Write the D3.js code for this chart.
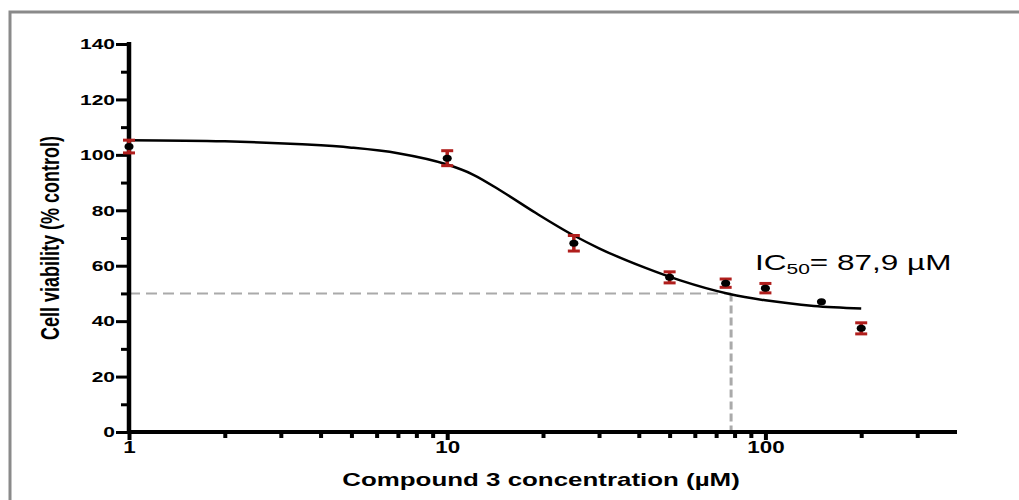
<!DOCTYPE html>
<html>
<head>
<meta charset="utf-8">
<script src="https://cdn.jsdelivr.net/npm/d3@7"></script>
<style>
body { margin: 0; background: #fff; }
svg { display: block; font-family: "Liberation Sans", Arial, sans-serif; }
</style>
</head>
<body>
<div id="chart"></div>
<script>
// measured points (mean +/- error)
const concentrations = [1, 10, 25, 50, 75, 100, 150, 200];
const viability = [103.0, 98.8, 68.1, 55.8, 53.7, 51.9, 47.0, 37.4];
const errors = [2.3, 2.7, 2.8, 2.0, 1.5, 1.7, 0, 2.0];

// fitted curve
const fitConc = [1, 2, 3.5, 5, 7, 10, 12, 15, 19, 25, 30, 42, 54, 77, 100, 142, 200];
const fitViab = [105.3, 104.9, 103.8, 102.6, 100.6, 96.5, 93.0, 86.5, 79.0, 70.9, 66.3, 59.2, 54.7, 49.8, 47.5, 45.5, 44.6];

const yMajor = [0, 20, 40, 60, 80, 100, 120, 140];
const yMinor = [10, 30, 50, 70, 90, 110, 130];
const xTicks = [1, 2, 3, 4, 5, 6, 7, 8, 9, 10, 20, 30, 40, 50, 60, 70, 80, 90, 100, 200, 300];
const xLabels = [1, 10, 100];

const ic50Conc = 78;
const halfLevel = 50;

const width = 1019, height = 500;
const sx = 1.4; // the picture is stretched sideways, text too

let svg = d3.select("#chart").append("svg")
    .attr("width", width)
    .attr("height", height);

// grey frame
svg.append("rect")
    .attr("x", 10).attr("y", 12)
    .attr("width", 1030).attr("height", 520)
    .attr("fill", "none")
    .attr("stroke", "#8a8a8a")
    .attr("stroke-width", 3);

let x = d3.scaleLog().domain([1, 400]).range([129, 957]);
let y = d3.scaleLinear().domain([0, 140]).range([432, 44]);

// dashed IC50 guides
svg.append("line")
    .attr("x1", x(1)).attr("x2", x(ic50Conc))
    .attr("y1", y(halfLevel)).attr("y2", y(halfLevel))
    .attr("stroke", "#aaa").attr("stroke-width", 2)
    .attr("stroke-dasharray", "11,6");
svg.append("line")
    .attr("x1", x(ic50Conc)).attr("x2", x(ic50Conc))
    .attr("y1", y(halfLevel)).attr("y2", y(0))
    .attr("stroke", "#aaa").attr("stroke-width", 3)
    .attr("stroke-dasharray", "8,4");

// fitted curve
let line = d3.line()
    .x(d => x(d[0]))
    .y(d => y(d[1]))
    .curve(d3.curveMonotoneX);
svg.append("path")
    .datum(fitConc.map((c, i) => [c, fitViab[i]]))
    .attr("d", line)
    .attr("fill", "none")
    .attr("stroke", "#000")
    .attr("stroke-width", 2.5);

// y axis
let yMinorAxis = svg.append("g")
    .attr("transform", "translate(" + x(1) + ",0)")
    .call(d3.axisLeft(y).tickValues(yMinor).tickSize(8).tickSizeOuter(0).tickFormat(""));
yMinorAxis.select(".domain").remove();

let yAxis = svg.append("g")
    .attr("transform", "translate(" + x(1) + ",0)")
    .call(d3.axisLeft(y).tickValues(yMajor).tickSize(13).tickSizeOuter(0));
yAxis.select(".domain").attr("stroke-width", 4.5)
    .attr("d", "M0," + (y(140) - 2) + "V" + (y(0) + 2));
yAxis.selectAll("text")
    .attr("x", 0)
    .attr("transform", "translate(-14,0) scale(" + sx + ",1)")
    .style("font-size", "15px").style("font-weight", "bold")
    .attr("fill", "#000");
svg.selectAll(".tick line").attr("stroke", "#000").attr("stroke-width", 3);

// x axis
let xAxis = svg.append("g")
    .attr("transform", "translate(0," + y(0) + ")")
    .call(d3.axisBottom(x).tickValues(xTicks).tickSize(6).tickSizeOuter(0)
        .tickFormat(d => xLabels.includes(d) ? d : ""));
xAxis.select(".domain").attr("stroke-width", 4)
    .attr("d", "M" + (x(1) - 2) + ",0H" + x(400));
xAxis.selectAll(".tick line").attr("stroke", "#000").attr("stroke-width", 4);
xAxis.selectAll(".tick").filter(d => xLabels.includes(d)).select("line").attr("y2", 8);
xAxis.selectAll("text")
    .attr("y", 0).attr("dy", null)
    .attr("transform", "translate(0,21) scale(" + sx + ",1)")
    .style("font-size", "16px").style("font-weight", "bold")
    .attr("fill", "#000");

// error bars
let pts = concentrations.map((c, i) => ({c: c, v: viability[i], e: errors[i]}));
let bars = svg.append("g").selectAll("g").data(pts.filter(d => d.e > 0)).enter().append("g")
    .attr("stroke", "#b01e1c");
bars.append("line")
    .attr("x1", d => x(d.c)).attr("x2", d => x(d.c))
    .attr("y1", d => y(d.v + d.e)).attr("y2", d => y(d.v - d.e))
    .attr("stroke-width", 3.5);
bars.append("line")
    .attr("x1", d => x(d.c) - 6).attr("x2", d => x(d.c) + 6)
    .attr("y1", d => y(d.v + d.e)).attr("y2", d => y(d.v + d.e))
    .attr("stroke-width", 3);
bars.append("line")
    .attr("x1", d => x(d.c) - 6).attr("x2", d => x(d.c) + 6)
    .attr("y1", d => y(d.v - d.e)).attr("y2", d => y(d.v - d.e))
    .attr("stroke-width", 3);

svg.append("g").selectAll("ellipse").data(pts).enter().append("ellipse")
    .attr("cx", d => x(d.c))
    .attr("cy", d => y(d.v))
    .attr("rx", 4.5).attr("ry", 3.5)
    .attr("fill", "#000");

// axis titles
svg.append("text")
    .attr("transform", "translate(541,486) scale(" + sx + ",1)")
    .attr("text-anchor", "middle")
    .style("font-size", "18.5px").style("font-weight", "bold")
    .text("Compound 3 concentration (\u00b5M)");

svg.append("text")
    .attr("transform", "translate(59,238) rotate(-90) scale(1," + sx + ")")
    .attr("text-anchor", "middle")
    .style("font-size", "18px").style("font-weight", "bold")
    .text("Cell viability (% control)");

// IC50 label
let ic = svg.append("text")
    .attr("transform", "translate(755,270) scale(" + sx + ",1)")
    .style("font-size", "22.5px");
ic.append("tspan").text("IC");
ic.append("tspan").attr("dy", 3.5).style("font-size", "15px").text("50");
ic.append("tspan").attr("dy", -3.5).text("= 87,9 \u00b5M");
</script>
</body>
</html>
